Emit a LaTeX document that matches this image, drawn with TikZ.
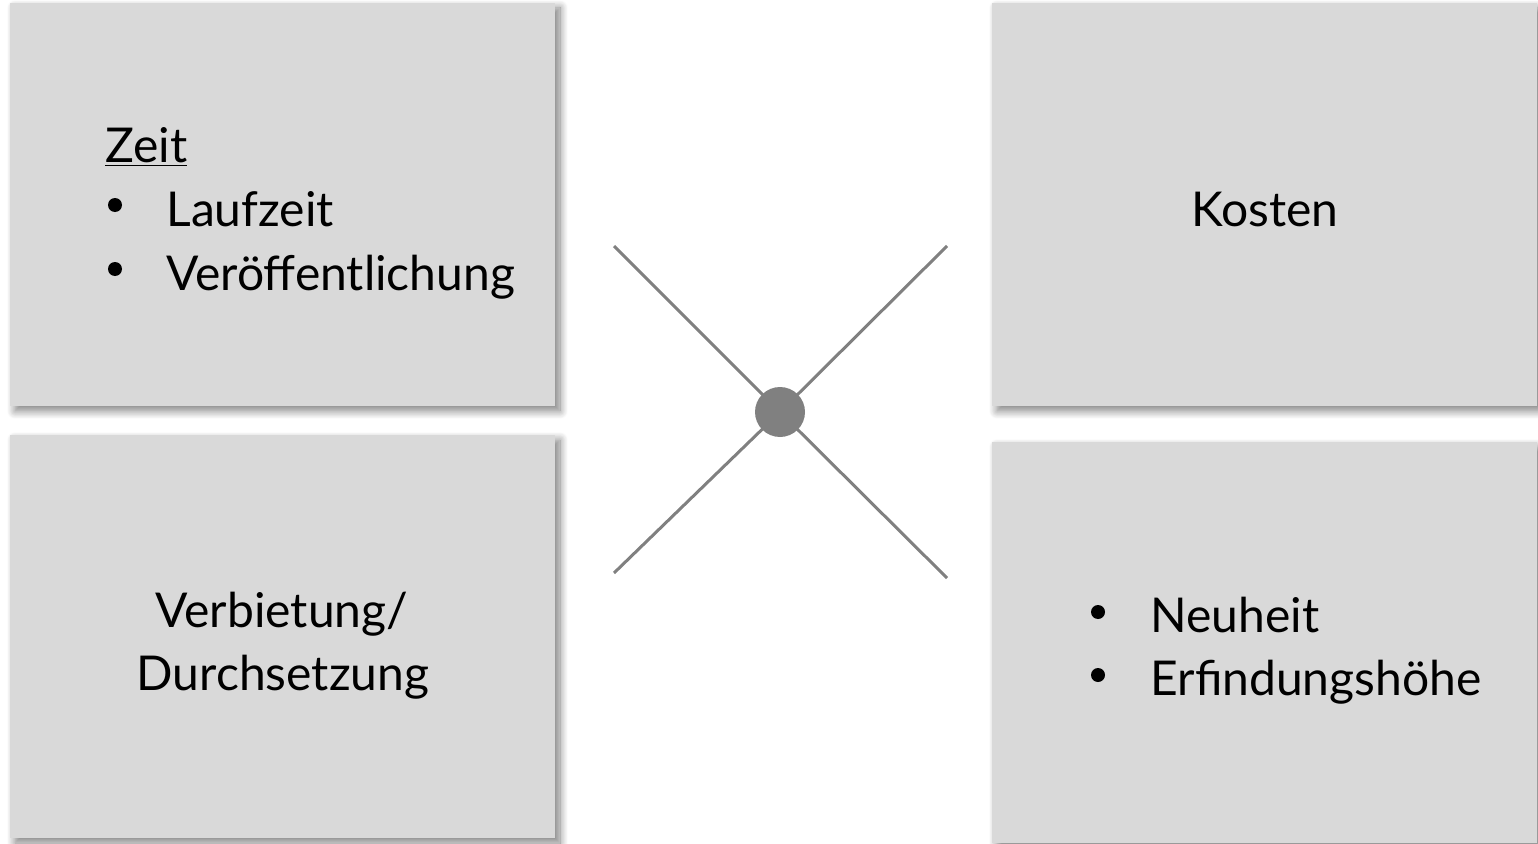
\documentclass[tikz,border=0pt]{standalone}
\usepackage{fontspec}
\setmainfont{Lato}
\usetikzlibrary{shadows.blur}

\definecolor{boxgray}{HTML}{D9D9D9}
\definecolor{crossgray}{HTML}{808080}

\tikzset{
  feld/.style={draw=none, fill=boxgray, minimum width=545*0.5pt, minimum height=403*0.5pt,
    inner sep=0pt, outer sep=0pt,
    blur shadow={shadow xshift=2.5pt, shadow yshift=-2.5pt, shadow blur radius=4pt,
      shadow blur steps=10, shadow opacity=50}},
  schrift/.style={font=\fontsize{24}{28}\selectfont, inner sep=0pt, anchor=base west},
  punkt/.style={circle, fill=black, minimum size=7pt, inner sep=0pt},
  kreuz/.style={line width=1.5pt, draw=crossgray, line cap=butt}
}

\begin{document}
\begin{tikzpicture}[x=0.5pt, y=0.5pt]
  \useasboundingbox (0,0) rectangle (1538,843);

  % the four boxes
  \node[feld, anchor=south west] (zeitbox)   at (10,437)  {};
  \node[feld, anchor=south west] (verbbox)   at (10,5)    {};
  \node[feld, anchor=south west] (kostenbox) at (992,437) {};
  \node[feld, anchor=south west, minimum height=401*0.5pt] (neubox) at (992,0) {};

  % cross in the middle
  \coordinate (ol) at (614,597);
  \coordinate (or) at (947,597);
  \coordinate (ul) at (614,270);
  \coordinate (ur) at (947,265);
  \coordinate (m) at (780,431);
  \draw[kreuz] (ol) -- (m) -- (ur);
  \draw[kreuz] (ul) -- (m) -- (or);
  \node[circle, fill=crossgray, minimum size=50*0.5pt, inner sep=0pt] (mitte) at (m) {};

  % top left
  \node[schrift] (zeit) at (105,681) {\underline{Zeit}};
  \node[punkt] (b1) at (115,638) {};
  \node[schrift] (laufzeit) at (166,617) {Laufzeit};
  \node[punkt] (b2) at (115,574) {};
  \node[schrift] (veroeff) at (166,553) {Veröffentlichung};

  % top right
  \node[schrift, anchor=base] (kosten) at (1265,617) {Kosten};

  % bottom left
  \node[schrift, anchor=base] (verbietung) at (282,216) {Verbietung/};
  \node[schrift, anchor=base] (durchsetzung) at (283,153) {Durchsetzung};

  % bottom right
  \node[punkt] (b3) at (1098,231) {};
  \node[schrift] (neuheit) at (1150,211) {Neuheit};
  \node[punkt] (b4) at (1098,168) {};
  \node[schrift] (erfindung) at (1150,148) {Erfindungshöhe};
\end{tikzpicture}
\end{document}
